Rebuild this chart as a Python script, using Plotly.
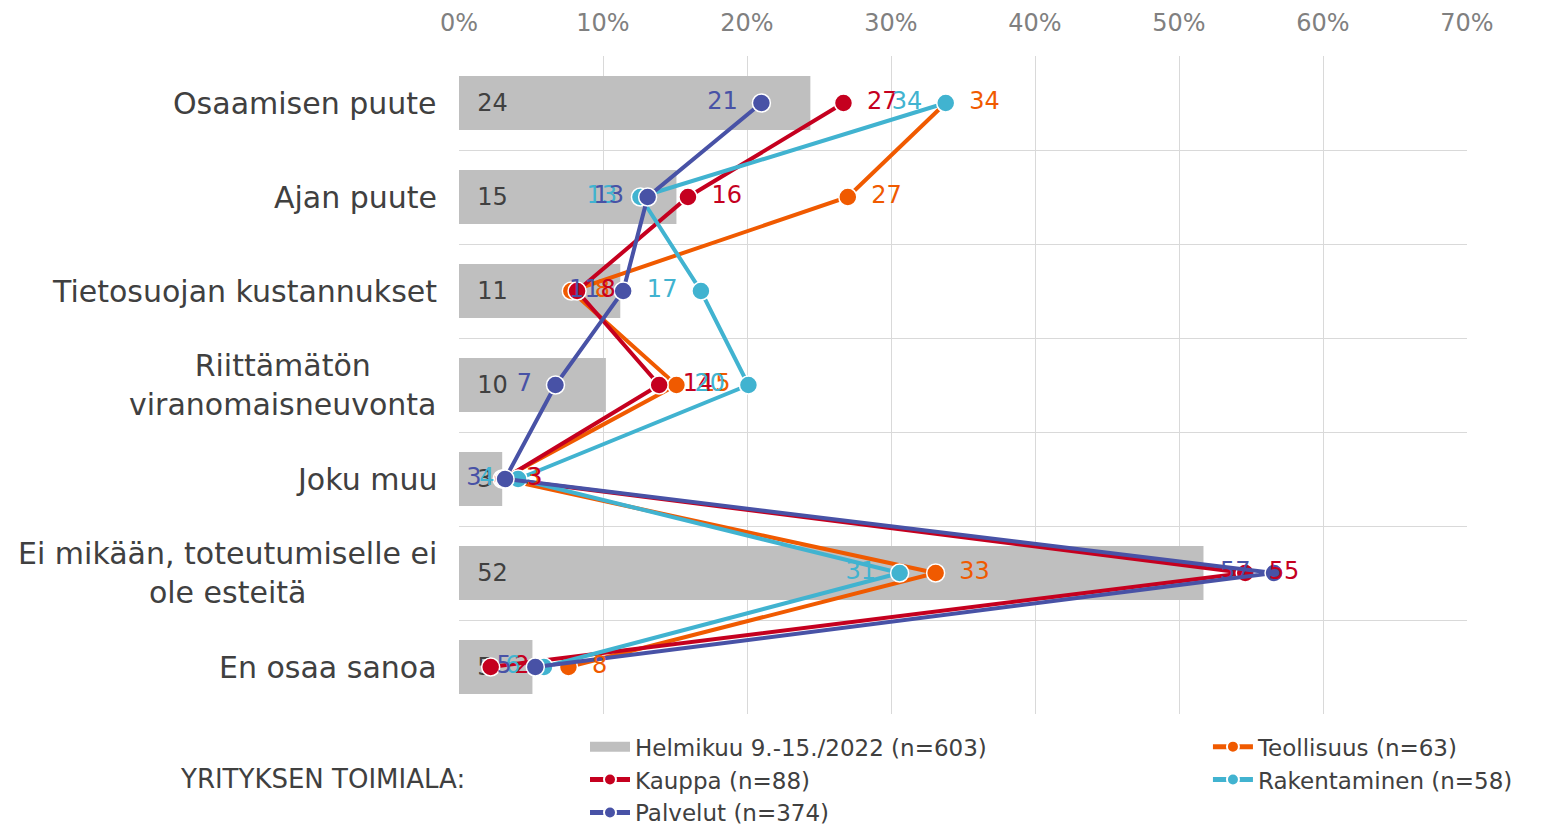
import plotly.graph_objects as go

categories = [
    "Osaamisen puute",
    "Ajan puute",
    "Tietosuojan kustannukset",
    "Riittämätön<br>viranomaisneuvonta",
    "Joku muu",
    "Ei mikään, toteutumiselle ei<br>ole esteitä",
    "En osaa sanoa",
]
x_ticks = [0, 10, 20, 30, 40, 50, 60, 70]
x_tick_labels = [f"{v}%" for v in x_ticks]

helmikuu = [24.4, 15.1, 11.2, 10.2, 3.0, 51.7, 5.1]
teollisuus = [33.8, 27.0, 7.8, 15.1, 3.0, 33.1, 7.6]
kauppa = [26.7, 15.9, 8.2, 13.9, 3.1, 54.6, 2.2]
rakentaminen = [33.8, 12.6, 16.8, 20.1, 4.1, 30.6, 5.9]
palvelut = [21.0, 13.1, 11.4, 6.7, 3.2, 56.6, 5.3]

bar_name = "Helmikuu 9.-15./2022 (n=603)"
legend_title = "YRITYKSEN TOIMIALA:"

FONT = "Verdana, DejaVu Sans, sans-serif"
TXT = "#404040"
BAR_COLOR = "#BFBFBF"

series = [
    ("Teollisuus (n=63)", teollisuus, "#F05A00", "middle right", "legend2"),
    ("Kauppa (n=88)", kauppa, "#C5001F", "middle right", "legend"),
    ("Rakentaminen (n=58)", rakentaminen, "#41B3D0", "middle left", "legend2"),
    ("Palvelut (n=374)", palvelut, "#4852A6", "middle left", "legend"),
]

fig = go.Figure()
# legend entry for the bar series (wide grey swatch as in the original)
fig.add_trace(go.Scatter(
    x=[None], y=[None], mode="lines", name=bar_name,
    line=dict(color=BAR_COLOR, width=14), legend="legend3", hoverinfo="skip",
))
fig.add_trace(go.Bar(
    y=categories, x=helmikuu, orientation="h", name=bar_name,
    marker=dict(color=BAR_COLOR, line=dict(width=0)),
    texttemplate="\u00a0\u00a0%{x:.0f}", textposition="inside",
    insidetextanchor="start", textangle=0,
    insidetextfont=dict(size=24, color=TXT, family=FONT),
    showlegend=False, hoverinfo="skip",
))
for name, vals, color, pos, leg in series:
    fig.add_trace(go.Scatter(
        y=categories, x=vals, mode="lines+markers", name=name,
        line=dict(color=color, width=4),
        marker=dict(size=18, color=color, line=dict(color="white", width=1.5)),
        legend=leg, hoverinfo="skip",
    ))
for name, vals, color, pos, leg in series:
    fig.add_trace(go.Scatter(
        y=categories, x=vals, mode="markers+text",
        marker=dict(size=36, opacity=0),
        texttemplate="%{x:.0f}", textposition=pos,
        textfont=dict(size=24, color=color, family=FONT),
        showlegend=False, hoverinfo="skip",
    ))

annotations = []
for c in categories:
    annotations.append(dict(
        xref="paper", yref="y", x=0, y=c, xanchor="right", yanchor="middle",
        xshift=-20, text=c, align="center", showarrow=False,
        font=dict(size=30, color=TXT, family=FONT),
    ))
annotations.append(dict(
    xref="paper", yref="paper", x=-0.279, y=-0.099, xanchor="left", yanchor="middle",
    text=legend_title, showarrow=False, font=dict(size=26, color=TXT, family=FONT),
))

legend_common = dict(
    xanchor="left", yanchor="top", bgcolor="rgba(0,0,0,0)", itemwidth=40,
    font=dict(size=23, color=TXT, family=FONT),
)

fig.update_layout(
    width=1535, height=817,
    margin=dict(l=451, r=76, t=48, b=111, autoexpand=False),
    plot_bgcolor="white", paper_bgcolor="white",
    font=dict(family=FONT, color=TXT),
    bargap=0.425,
    xaxis=dict(
        side="top", range=[0, 70], tickmode="array", tickvals=x_ticks,
        ticktext=x_tick_labels, automargin=False,
        showgrid=True, gridcolor="#D9D9D9", gridwidth=1, zeroline=False,
        showline=False, ticks="", ticklabelstandoff=19,
        tickfont=dict(size=24, color="#808080", family=FONT),
    ),
    yaxis=dict(
        type="category", range=[len(categories) - 0.5, -0.5], tickson="boundaries",
        showgrid=True, gridcolor="#D9D9D9", gridwidth=1, automargin=False,
        showticklabels=False, ticks="", zeroline=False,
    ),
    legend3=dict(x=0.125, y=-0.017, **legend_common),
    legend=dict(x=0.125, y=-0.067, itemsizing="constant", **legend_common),
    legend2=dict(x=0.743, y=-0.017, itemsizing="constant", **legend_common),
    annotations=annotations,
    showlegend=True,
)

fig.write_html("out.html")
